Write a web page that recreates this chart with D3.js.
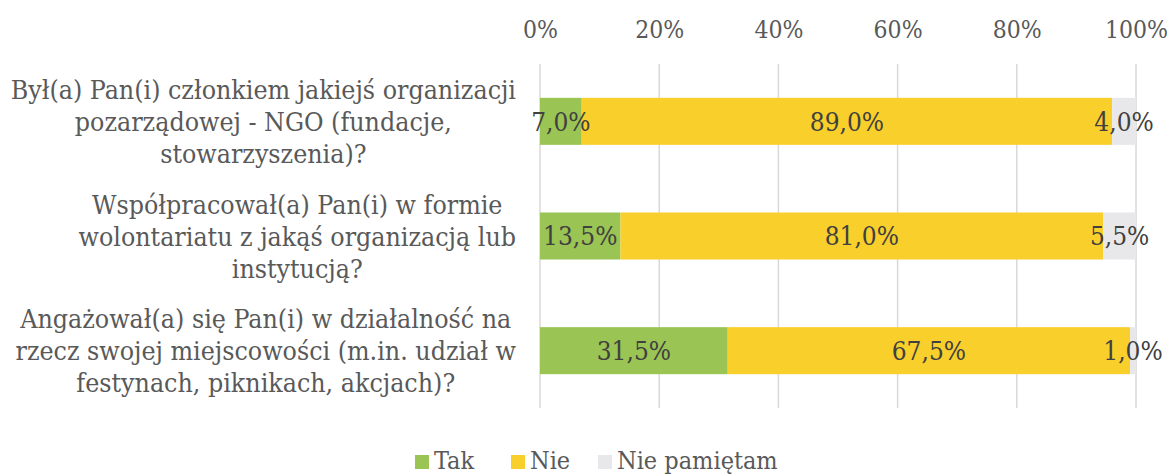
<!DOCTYPE html>
<html>
<head>
<meta charset="utf-8">
<script src="https://cdn.jsdelivr.net/npm/d3@7"></script>
<style>
  html, body { margin: 0; padding: 0; background: #fff; }
  svg { display: block; }
  text { font-family: "DejaVu Serif Condensed", "DejaVu Serif", serif; font-stretch: condensed; }
</style>
</head>
<body>
<svg id="chart" width="1173" height="476"></svg>
<script>
// Survey questions (each split into its display lines)
const categories = [
  ["Był(a) Pan(i) członkiem jakiejś organizacji", "pozarządowej - NGO (fundacje,", "stowarzyszenia)?"],
  ["Współpracował(a) Pan(i) w formie", "wolontariatu z jakąś organizacją lub", "instytucją?"],
  ["Angażował(a) się Pan(i) w działalność na", "rzecz swojej miejscowości (m.in. udział w", "festynach, piknikach, akcjach)?"]
];
const seriesNames = ["Tak", "Nie", "Nie pamiętam"];
const tak = [7.0, 13.5, 31.5];
const nie = [89.0, 81.0, 67.5];
const niePamietam = [4.0, 5.5, 1.0];
const tickValues = [0, 20, 40, 60, 80, 100];
const colors = ["#9AC454", "#F9CF2B", "#E8E8EA"];

const svg = d3.select("#chart");

const x = d3.scaleLinear().domain([0, 100]).range([540, 1136]);
const y = d3.scaleBand().domain(d3.range(categories.length)).range([64, 408])
  .paddingInner(0.59).paddingOuter(0.295);

const fmtPct = v => d3.format(".1f")(v).replace(".", ",") + "%";

// vertical gridlines
svg.append("g").selectAll("line").data(tickValues).join("line")
  .attr("x1", d => x(d)).attr("x2", d => x(d))
  .attr("y1", 64).attr("y2", 408)
  .attr("stroke", "#D9D9D9").attr("stroke-width", 1.5);

// top axis labels
const axis = d3.axisTop(x).tickValues(tickValues).tickFormat(d => d + "%").tickSize(0).tickPadding(0);
const axG = svg.append("g").attr("transform", "translate(0,38)").call(axis);
axG.select(".domain").remove();
axG.selectAll("text").attr("font-size", 24.5).attr("fill", "#595959")
  .attr("font-family", null).attr("dy", 0);

// stacked data
const rows = categories.map((c, i) => ({ i, Tak: tak[i], Nie: nie[i], "Nie pamiętam": niePamietam[i] }));
const stack = d3.stack().keys(seriesNames)(rows);

const layers = svg.append("g").selectAll("g").data(stack).join("g")
  .attr("fill", (d, k) => colors[k]);
layers.selectAll("rect").data(d => d).join("rect")
  .attr("x", d => x(d[0]))
  .attr("width", d => x(d[1]) - x(d[0]))
  .attr("y", d => y(d.data.i))
  .attr("height", y.bandwidth());

// value labels centred in each segment
const lbl = svg.append("g");
stack.forEach(layer => {
  layer.forEach(d => {
    lbl.append("text")
      .attr("x", (x(d[0]) + x(d[1])) / 2)
      .attr("y", y(d.data.i) + y.bandwidth() / 2)
      .attr("dy", "0.36em")
      .attr("text-anchor", "middle")
      .attr("font-size", 26)
      .attr("fill", "#404040")
      .text(fmtPct(d[1] - d[0]));
  });
});

// category labels: centred block, right edge aligned near the plot
const catG = svg.append("g");
const lineH = 32;
categories.forEach((lines, i) => {
  const cy = y(i) + y.bandwidth() / 2;
  const g = catG.append("g");
  const texts = lines.map((t, j) => g.append("text")
    .attr("y", cy + (j - (lines.length - 1) / 2) * lineH)
    .attr("dy", "0.36em")
    .attr("text-anchor", "middle")
    .attr("font-size", 26.5)
    .attr("fill", "#595959")
    .text(t));
  const w = d3.max(texts, t => t.node().getComputedTextLength());
  texts.forEach(t => t.attr("x", 516 - w / 2));
});

// legend
const legend = svg.append("g");
const legendX = [415, 511, 598];
seriesNames.forEach((name, k) => {
  legend.append("rect").attr("x", legendX[k]).attr("y", 455).attr("width", 14).attr("height", 14)
    .attr("fill", colors[k]);
  legend.append("text").attr("x", legendX[k] + 19).attr("y", 469)
    .attr("font-size", 25).attr("fill", "#595959").text(name);
});
</script>
</body>
</html>
